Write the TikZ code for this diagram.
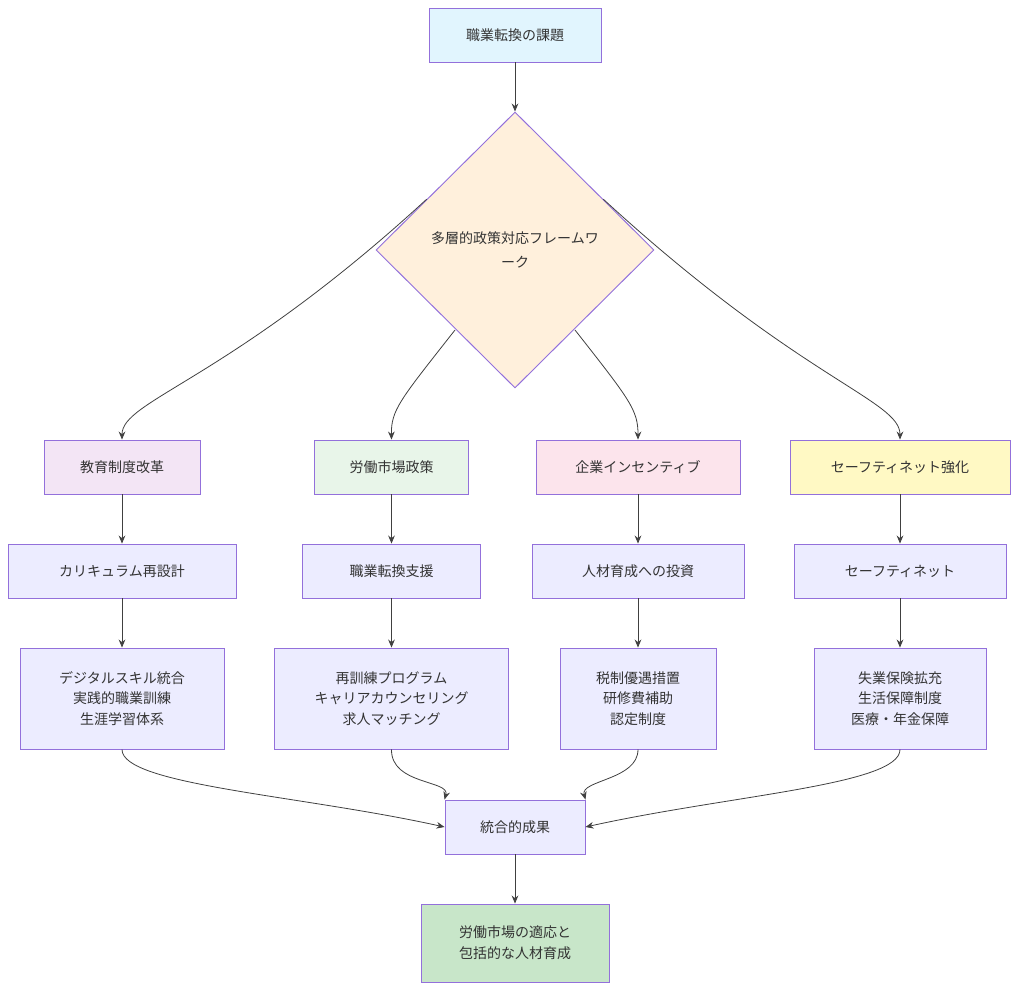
\documentclass[tikz,border=0pt]{standalone}
\usepackage{fontspec}
\setmainfont{Noto Sans CJK JP}
\usetikzlibrary{shapes.geometric,arrows.meta}
\definecolor{bd}{HTML}{9370DB}
\definecolor{cA}{HTML}{E1F5FE}
\definecolor{cD}{HTML}{FFF0DC}
\definecolor{c1}{HTML}{F3E5F5}
\definecolor{c2}{HTML}{E8F5E9}
\definecolor{c3}{HTML}{FCE4EC}
\definecolor{c4}{HTML}{FFF9C4}
\definecolor{cB}{HTML}{ECECFF}
\definecolor{cG}{HTML}{C8E6C9}
\begin{document}
\begin{tikzpicture}[x=0.75pt,y=-0.75pt,
 box/.style={draw=bd,line width=0.7pt,fill=cB,rectangle,minimum height=40.5pt,inner sep=0pt,align=center,font=\fontsize{10.5}{15.5}\selectfont,text=black!80},
 ar/.style={draw=black!75,line width=0.6pt,-{Stealth[length=6pt,width=5pt]}}]
\useasboundingbox (0,0) rectangle (1018,990);
\node[box,fill=cA,minimum width=129pt] (top) at (515,35) {職業転換の課題};
\node[draw=bd,line width=0.7pt,fill=cD,diamond,minimum width=208.5pt,minimum height=207pt,align=center,font=\fontsize{10.5}{18}\selectfont,text=black!80] (d) at (515,250) {多層的政策対応フレームワ\\ーク};
\node[box,fill=c1,minimum width=117pt] (a1) at (122,467) {教育制度改革};
\node[box,fill=c2,minimum width=116pt] (b1) at (391.5,467) {労働市場政策};
\node[box,fill=c3,minimum width=153pt] (c1n) at (638,467) {企業インセンティブ};
\node[box,fill=c4,minimum width=165pt] (e1) at (900,467) {セーフティネット強化};
\node[box,minimum width=171pt] (a2) at (122,571) {カリキュラム再設計};
\node[box,minimum width=134pt] (b2) at (391.5,571) {職業転換支援};
\node[box,minimum width=159pt] (c2n) at (638,571) {人材育成への投資};
\node[box,minimum width=159pt] (e2) at (900,571) {セーフティネット};
\node[box,minimum width=153pt,minimum height=75.75pt] (a3) at (122,698.5) {デジタルスキル統合\\実践的職業訓練\\生涯学習体系};
\node[box,minimum width=176pt,minimum height=75.75pt] (b3) at (391.5,698.5) {再訓練プログラム\\キャリアカウンセリング\\求人マッチング};
\node[box,minimum width=117pt,minimum height=75.75pt] (c3n) at (638,698.5) {税制優遇措置\\研修費補助\\認定制度};
\node[box,minimum width=129pt,minimum height=75.75pt] (e3) at (900,698.5) {失業保険拡充\\生活保障制度\\医療・年金保障};
\node[box,minimum width=105pt] (m) at (515,827) {統合的成果};
\node[box,fill=cG,minimum width=141pt,minimum height=58.5pt] (f) at (515,943) {労働市場の適応と\\包括的な人材育成};
\draw[ar] (top) -- (d);
\draw[ar] (d.150) .. controls (230,380) and (122,400) .. (a1.north);
\draw[ar] (455,330) .. controls (400,400) and (391,410) .. (b1.north);
\draw[ar] (575,330) .. controls (630,400) and (638,410) .. (c1n.north);
\draw[ar] (d.30) .. controls (800,380) and (900,400) .. (e1.north);
\foreach \u/\v in {a1/a2,a2/a3,b1/b2,b2/b3,c1n/c2n,c2n/c3n,e1/e2,e2/e3,m/f}
  \draw[ar] (\u) -- (\v);
\draw[ar] (a3.south) .. controls (122,785) and (300,795) .. (m.west);
\draw[ar] (b3.south) .. controls (391,785) and (450,780) .. (m.north west);
\draw[ar] (c3n.south) .. controls (638,780) and (580,780) .. (m.north east);
\draw[ar] (e3.south) .. controls (900,785) and (730,795) .. (m.east);
\end{tikzpicture}
\end{document}
